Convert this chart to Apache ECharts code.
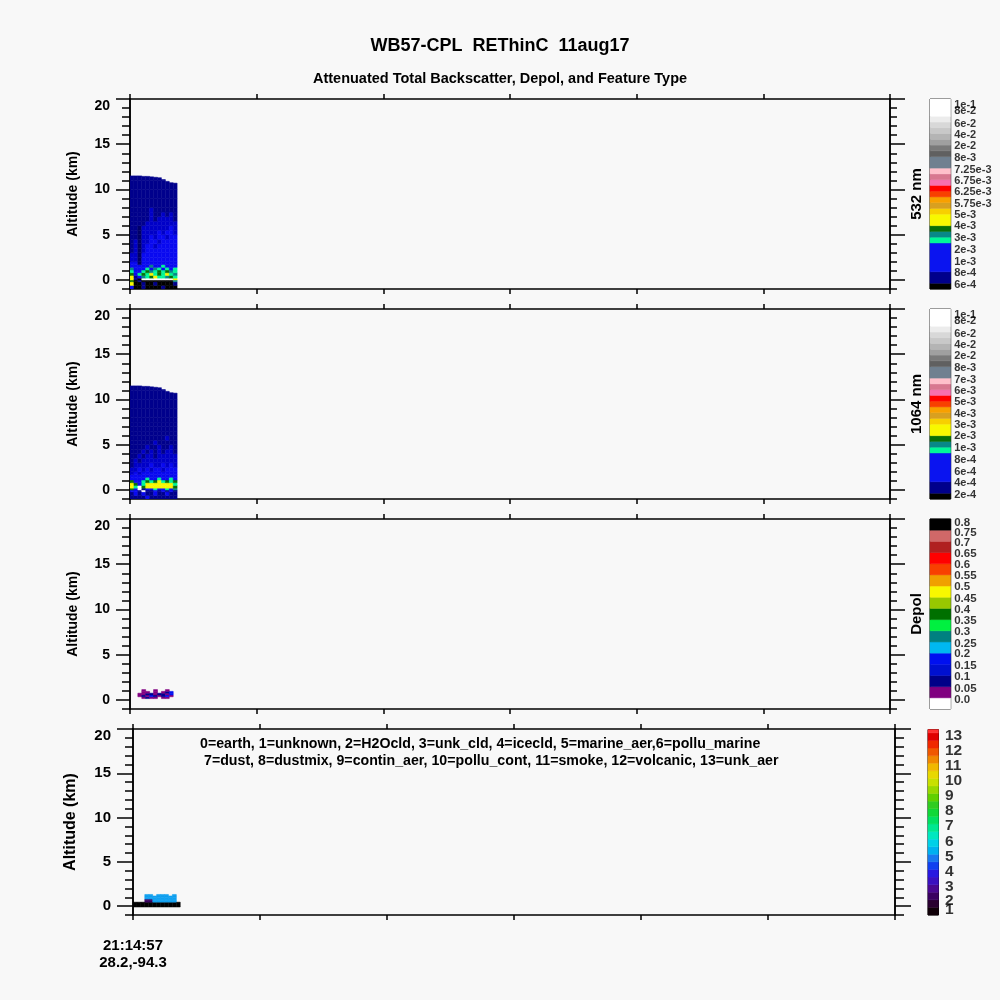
<!DOCTYPE html>
<html><head><meta charset="utf-8">
<script src="https://cdn.jsdelivr.net/npm/echarts@6/dist/echarts.min.js"></script>
<style>html,body{margin:0;padding:0;background:#f8f8f8}#c{width:1000px;height:1000px}</style>
</head><body><div id="c"></div>
<script>
// ---------------- DATA ----------------
const titleText = 'WB57-CPL  REThinC  11aug17';
const subtitleText = 'Attenuated Total Backscatter, Depol, and Feature Type';
const featureLegend1 = '0=earth, 1=unknown, 2=H2Ocld, 3=unk_cld, 4=icecld, 5=marine_aer,6=pollu_marine';
const featureLegend2 = '7=dust, 8=dustmix, 9=contin_aer, 10=pollu_cont, 11=smoke, 12=volcanic, 13=unk_aer';
const panelNames = ['532 nm', '1064 nm', 'Depol', ''];
const yAxisTitle = 'Altitude (km)';
const xTickValues = [0, 100, 200, 300, 400, 500, 600];
const xTickLabels = ['21:14:57\n28.2,-94.3', '', '', '', '', '', ''];
const altMajor = [0, 5, 10, 15, 20];
const altMinor = [-1,0,1,2,3,4,5,6,7,8,9,10,11,12,13,14,15,16,17,18,19,20];
const altLabelText = ['0', '5', '10', '15', '20'];
const altLabelPos = [0, 5, 10, 15, 19.25];   // the top label sits just inside the frame

// profile columns (profile units per column) and top of data per column (km)
const colWidth = 3.1;
const colTops = [11.5, 11.5, 11.5, 11.45, 11.45, 11.4, 11.35, 11.3, 11.1, 10.9, 10.75, 10.7];

// altitude bin edges (km) for backscatter curtains
const bsEdges = [-1, -0.6, -0.2, 0, 0.2, 0.5, 0.8, 1.1, 1.4, 1.7, 2.0, 2.5, 3.0, 3.5, 4.0, 4.5, 5.0, 5.5, 6.0, 6.5, 7.0, 7.5, 8.0, 9.0, 10.0, 11.0, 12.0];

// rows listed bottom-up, one char per column
const bs532Rows = [
  'bkknkkkknkkk', // -1.0..-0.6
  'ykknkknkkkkn', // -0.6..-0.2
  'gknkkkkkkkkt', // -0.2..0
  'ynkwwwwwwwwy', // 0..0.2
  'ynbtsgysstgs', // 0.2..0.5
  'gbsgsysgsyst', // 0.5..0.8
  'sbbsgtsgsgts', // 0.8..1.1
  'tbbbsbtsbsbs', // 1.1..1.4
  'bbbbbtbbsbbb', // 1.4..1.7
  'bbdbbbbbbbbb', // 1.7..2.0
  'mmdbbbbbbbbb', // 2.0..2.5
  'mmdbbbbbbbbb', // 2.5..3.0
  'nmdmbbbbbbbb', // 3.0..3.5
  'nmdmbbmbbbbb', // 3.5..4.0
  'nmdmmbbmbbbb', // 4.0..4.5
  'nndmmbmbbmbb', // 4.5..5.0
  'nndmmmmbmbbm', // 5.0..5.5
  'nndmmmmmmmbm', // 5.5..6.0
  'nnnnmmmmmmmm', // 6.0..6.5
  'nnnnnmnmmmmn', // 6.5..7.0
  'nnnnnmnnmnmn', // 7.0..7.5
  'nnnnnmnnnnnn', // 7.5..8.0
  'nnnnnnnnnnnn', // 8..9
  'nnnnnnnnnnnn', // 9..10
  'nnnnnnnnnnnn', // 10..11
  'nnnnnnnnnnnn'  // 11..12
];
const bs1064Rows = [
  'nnnnbnnnnnnn',
  'nbnbnnbnnbnn',
  'bbnwnnbnbnbn',
  'gbwnbbsbbsbt',
  'yswgyyyyyyyg',
  'ygbsyyyyyyys',
  'gbbsgsgysgsg',
  'bbbbsbbsbbsb',
  'bbbbbbbbbbbb',
  'mbmbbbbbbbbb',
  'mmbmbmbbmbbb',
  'nmmmmbmmbmbm',
  'nmnmmmmmmmmm',
  'nnmnmmnmmmmm',
  'nnnmnmnmnmmn',
  'nnnnmnnmnnmn',
  'nnnnnnmnnnnn',
  'nnnnnnnnnmnn',
  'nnnnnnnnnnnn',
  'nnnnnnnnnnnn',
  'nnnnnnnnnnnn',
  'nnnnnnnnnnnn',
  'nnnnnnnnnnnn',
  'nnnnnnnnnnnn',
  'nnnnnnnnnnnn',
  'nnnnnnnnnnnn'
];
const depolEdges = [0.15, 0.35, 0.55, 0.75, 0.95, 1.15];
const depolRows = [
  '...pnpp.pp..',
  '..pnpbnpnbp.',
  '..ppnnpnnpb.',
  '...pp.p.pnb.',
  '...p..p..p..'
];
const featEdges = [-0.1, 0.45, 0.6, 0.8, 1.0, 1.15, 1.32];
const featRows = [
  'kkkkkkkkkkkk',
  '...vvcccccc.',
  '...vvcccccc.',
  '...cccccccc.',
  '...cccccccc.',
  '...cc.ccc.c.'
];
const bsCodes = {k:'#000000', d:'#000068', n:'#00008c', m:'#0000c8', b:'#0a0af0', s:'#00f898', t:'#088888', g:'#087008', y:'#f8f800', o:'#f8a000', r:'#f80000', w:'#ffffff'};
const depolCodes = {p:'#800080', n:'#000090', m:'#0000c8', b:'#0010f0'};
const featCodes = {k:'#000000', v:'#3a0060', c:'#10a0f0', g:'#20d020'};

// colorbars (bottom -> top): colours, heights in bar units, labels and label centres
const cbBsColors = ['#000000','#00008b','#0a14f0','#00f898','#088888','#087008','#f8f800','#f8d000','#d8a020','#f8a000','#f84000','#ff0000','#f870b0','#d87890','#ffc0cb','#708090','#606060','#7a7a7a','#a0a0a0','#b4b4b4','#c8c8c8','#d8d8d8','#ececec','#ffffff'];
const cbBsUnits = [1,2,5,1,1,1,2,1,1,1,1,1,1,1,1,2,1,1,1,1,1,1,1,3];
const cb532Labels = ['6e-4','8e-4','1e-3','2e-3','3e-3','4e-3','5e-3','5.75e-3','6.25e-3','6.75e-3','7.25e-3','8e-3','2e-2','4e-2','6e-2','8e-2','1e-1'];
const cb1064Labels = ['2e-4','4e-4','6e-4','8e-4','1e-3','2e-3','3e-3','4e-3','5e-3','6e-3','7e-3','8e-3','2e-2','4e-2','6e-2','8e-2','1e-1'];
const cbBsLabelPos = [0.75, 2.78, 4.75, 6.7, 8.86, 10.9, 12.8, 14.8, 16.85, 18.8, 20.7, 22.75, 24.8, 26.8, 28.7, 31, 32];
const cbDepolColors = ['#ffffff','#800080','#000088','#0010d0','#0010f0','#00b8f0','#008080','#00f040','#007000','#98c800','#f8f800','#f0a000','#f84000','#ff0000','#b02020','#d06868','#000000'];
const cbDepolUnits = [1,1,1,1,1,1,1,1,1,1,1,1,1,1,1,1,1];
const cbDepolLabels = ['0.0','0.05','0.1','0.15','0.2','0.25','0.3','0.35','0.4','0.45','0.5','0.55','0.6','0.65','0.7','0.75','0.8'];
const cbDepolLabelPos = [0.78, 1.82, 2.9, 3.85, 4.9, 5.85, 6.9, 7.9, 8.9, 9.9, 10.9, 11.9, 12.9, 13.9, 14.87, 15.8, 16.66];
const cbFeatColors = ['#100008','#2a0030','#3a0060','#4a0890','#3a10c0','#2818e0','#1040f0','#1878f0','#00b0f0','#00d0e8','#00e8c0','#00e890','#00e060','#10d838','#30cc20','#60d000','#98d800','#c8e000','#e8d800','#f0b800','#f08800','#f05800','#f02800','#e00000','#ff3030'];
const cbFeatUnits = [0.5,0.5,0.5,0.5,0.5,0.5,0.5,0.5,0.5,0.5,0.5,0.5,0.5,0.5,0.5,0.5,0.5,0.5,0.5,0.5,0.5,0.5,0.5,0.5,0.22];
const cbFeatLabels = ['1','2','3','4','5','6','7','8','9','10','11','12','13'];
const cbFeatLabelPos = [0.33, 0.93, 1.84, 2.82, 3.83, 4.82, 5.86, 6.84, 7.84, 8.84, 9.84, 10.84, 11.84];

// ---------------- BUILD ----------------
const FONT = 'Liberation Sans';
function curtainData(rows, edges, codes, tops) {
  const out = [];
  rows.forEach((row, r) => {
    for (let c = 0; c < row.length; c++) {
      const ch = row[c];
      if (ch === '.') continue;
      const y1 = tops ? Math.min(edges[r + 1], tops[c]) : edges[r + 1];
      if (y1 <= edges[r]) continue;
      out.push({value: [c * colWidth, (c + 1) * colWidth, edges[r], y1], itemStyle: {color: codes[ch]}});
    }
  });
  return out;
}
function barData(colors, units) {
  let y = 0;
  return colors.map((col, i) => {
    const v = {value: [0, 1, y, y + units[i]], itemStyle: {color: col}};
    y += units[i];
    return v;
  });
}
function rectItem(params, api) {
  const p0 = api.coord([api.value(0), api.value(3)]);
  const p1 = api.coord([api.value(1), api.value(2)]);
  const col = api.visual('color');
  return {type: 'rect', shape: {x: p0[0], y: p0[1], width: p1[0] - p0[0], height: p1[1] - p0[1]},
    style: {fill: col, stroke: col, lineWidth: 0.5}};
}

const layout = [
  {left:130, top:99, width:760, height:190, cb:{left:930, top:99, width:20.7, height:190}, tickF:14, nameF:14, nameGap:50, labMargin:20, majL:14, minL:8, rmajL:15, rminL:7},
  {left:130, top:309, width:760, height:190, cb:{left:930, top:309, width:20.7, height:190}, tickF:14, nameF:14, nameGap:50, labMargin:20, majL:14, minL:8, rmajL:15, rminL:7},
  {left:130, top:519, width:760, height:190, cb:{left:930, top:519, width:20.7, height:190}, tickF:14, nameF:14, nameGap:50, labMargin:20, majL:14, minL:8, rmajL:15, rminL:7},
  {left:133, top:729, width:762, height:186, cb:{left:928, top:729.5, width:10.5, height:185.5}, tickF:15, nameF:16, nameGap:54, labMargin:22, majL:16, minL:8, rmajL:16, rminL:9}
];
const curtains = [
  curtainData(bs532Rows, bsEdges, bsCodes, colTops),
  curtainData(bs1064Rows, bsEdges, bsCodes, colTops),
  curtainData(depolRows, depolEdges, depolCodes, null),
  curtainData(featRows, featEdges, featCodes, null)
];
const bars = [
  {data: barData(cbBsColors, cbBsUnits), max: 33, labels: cb532Labels, pos: cbBsLabelPos, font: 11, weight: 'bold', dist: 3},
  {data: barData(cbBsColors, cbBsUnits), max: 33, labels: cb1064Labels, pos: cbBsLabelPos, font: 11, weight: 'bold', dist: 3},
  {data: barData(cbDepolColors, cbDepolUnits), max: 17, labels: cbDepolLabels, pos: cbDepolLabelPos, font: 11.5, weight: 'bold', dist: 3},
  {data: barData(cbFeatColors, cbFeatUnits), max: 12.22, labels: cbFeatLabels, pos: cbFeatLabelPos, font: 15.5, weight: 'bold', dist: 6}
];

const grid = [], xAxis = [], yAxis = [], series = [];
const black = {color: '#000', width: 1.5};
layout.forEach((L, i) => {
  const last = i === 3;
  grid.push({left: L.left, top: L.top, width: L.width, height: L.height});
  grid.push({left: L.cb.left, top: L.cb.top, width: L.cb.width, height: L.cb.height, show: true, borderColor: '#000', borderWidth: 1, backgroundColor: 'transparent'});
  const gp = 2 * i, gc = 2 * i + 1;
  const xBase = {gridIndex: gp, type: 'value', min: 0, max: 600, interval: 100, splitLine: {show: false},
    axisLine: {show: true, onZero: false, lineStyle: black}, axisTick: {show: true, length: 5, lineStyle: black}};
  xAxis.push(Object.assign({}, xBase, {position: 'bottom', axisLabel: {show: last, margin: 22, lineHeight: 17,
    fontSize: 15, fontWeight: 'bold', fontFamily: FONT, color: '#000',
    formatter: v => xTickLabels[xTickValues.indexOf(v)] || ''}}));
  xAxis.push(Object.assign({}, xBase, {position: 'top', axisLabel: {show: false}}));
  xAxis.push({gridIndex: gc, type: 'value', min: 0, max: 1, show: false});
  const yBase = {gridIndex: gp, type: 'value', min: -1, max: 20, splitLine: {show: false},
    axisLine: {show: true, onZero: false, lineStyle: black}};
  yAxis.push(Object.assign({}, yBase, {position: 'left', axisTick: {show: true, customValues: altMinor, length: L.minL, lineStyle: black}, axisLabel: {show: false}}));
  yAxis.push(Object.assign({}, yBase, {position: 'left', axisTick: {show: true, customValues: altMajor, length: L.majL, lineStyle: black},
    axisLabel: {show: true, customValues: altLabelPos, margin: L.labMargin, fontSize: L.tickF, fontWeight: 'bold', fontFamily: FONT, color: '#000',
      formatter: v => altLabelText[altLabelPos.indexOf(v)]},
    name: yAxisTitle, nameLocation: 'middle', nameGap: L.nameGap,
    nameTextStyle: {fontSize: L.nameF, fontWeight: 'bold', fontFamily: FONT, color: '#000'}}));
  yAxis.push(Object.assign({}, yBase, {position: 'right', axisTick: {show: true, customValues: altMinor, length: L.rminL, lineStyle: black}, axisLabel: {show: false}}));
  yAxis.push(Object.assign({}, yBase, {position: 'right', axisTick: {show: true, customValues: altMajor, length: L.rmajL, lineStyle: black}, axisLabel: {show: false},
    name: panelNames[i], nameLocation: 'middle', nameRotate: 90, nameGap: 19,
    nameTextStyle: {fontSize: 15, fontWeight: 'bold', fontFamily: FONT, color: '#000'}}));
  yAxis.push({gridIndex: gc, type: 'value', min: 0, max: bars[i].max, show: false});

  series.push({type: 'custom', xAxisIndex: 3 * i, yAxisIndex: 5 * i, renderItem: rectItem,
    encode: {x: [0, 1], y: [2, 3]}, data: curtains[i], clip: true, silent: true});
  series.push({type: 'custom', xAxisIndex: 3 * i + 2, yAxisIndex: 5 * i + 4, renderItem: rectItem,
    encode: {x: [0, 1], y: [2, 3]}, data: bars[i].data, silent: true, z: 1});
  const B = bars[i];
  series.push({type: 'scatter', xAxisIndex: 3 * i + 2, yAxisIndex: 5 * i + 4, clip: false, silent: true,
    symbolSize: 1, itemStyle: {color: 'rgba(0,0,0,0)'}, z: 5,
    data: B.pos.map(p => [1, p]),
    label: {show: true, position: 'right', distance: B.dist, color: '#000', fontSize: B.font, fontWeight: B.weight, fontFamily: FONT,
      formatter: p => B.labels[p.dataIndex]}});
});

const option = {
  backgroundColor: '#f8f8f8',
  animation: false,
  title: [
    {text: titleText, left: 'center', top: 32, textStyle: {fontSize: 18, fontWeight: 'bold', fontFamily: FONT, color: '#000'}},
    {text: subtitleText, left: 'center', top: 66, textStyle: {fontSize: 14.5, fontWeight: 'bold', fontFamily: FONT, color: '#000'}}
  ],
  graphic: [
    {type: 'text', left: 200, top: 737, style: {text: featureLegend1, font: 'bold 14.2px "Liberation Sans"', fill: '#000'}},
    {type: 'text', left: 204, top: 754, style: {text: featureLegend2, font: 'bold 14.2px "Liberation Sans"', fill: '#000'}}
  ],
  grid, xAxis, yAxis, series
};
const chart = echarts.init(document.getElementById('c'));
chart.setOption(option);
</script>
</body></html>
